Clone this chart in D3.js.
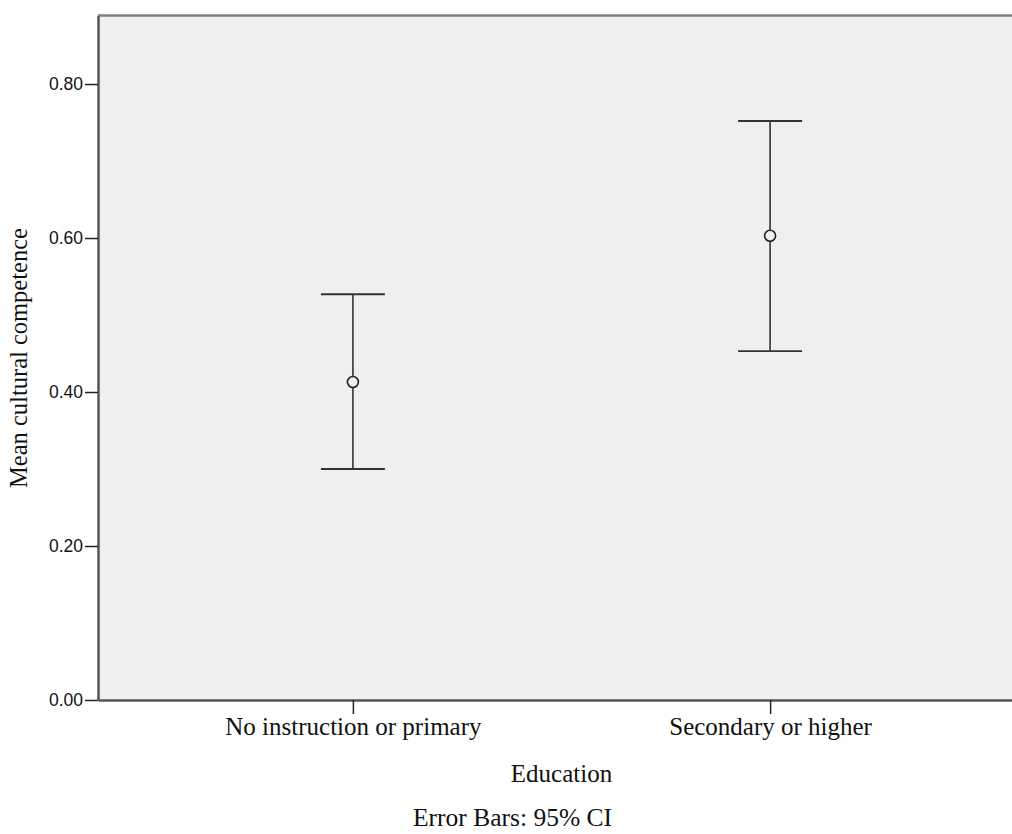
<!DOCTYPE html>
<html>
<head>
<meta charset="utf-8">
<script src="https://cdn.jsdelivr.net/npm/d3@7"></script>
<style>
  body { margin: 0; background: #fff; }
</style>
</head>
<body>
<div id="chart"></div>
<script>
const categories = ['No instruction or primary', 'Secondary or higher'];
const means = [0.413, 0.603];
const lowerCI = [0.300, 0.453];
const upperCI = [0.527, 0.752];
const yTicks = [0, 0.2, 0.4, 0.6, 0.8];

const width = 1012;
const height = 834;
const plotLeft = 98, plotTop = 15.5, plotRight = 1025, plotBottom = 700;
const serif = '"Liberation Serif", "Times New Roman", serif';
const sans = '"Liberation Sans", Arial, sans-serif';

const svg = d3.select('#chart').append('svg')
  .attr('width', width)
  .attr('height', height);

// scales
const x = d3.scalePoint()
  .domain(categories)
  .range([plotLeft, plotRight])
  .padding(0.611);

const y = d3.scaleLinear()
  .domain([0, 0.889])
  .range([plotBottom, plotTop]);

// plot background
svg.append('rect')
  .attr('x', plotLeft)
  .attr('y', plotTop)
  .attr('width', plotRight - plotLeft)
  .attr('height', plotBottom - plotTop)
  .attr('fill', '#efefef');

// top border
svg.append('line')
  .attr('x1', plotLeft).attr('x2', plotRight)
  .attr('y1', plotTop).attr('y2', plotTop)
  .attr('stroke', '#808080')
  .attr('stroke-width', 2.5);

// y axis
const yAxis = d3.axisLeft(y)
  .tickValues(yTicks)
  .tickFormat(d3.format('.2f'))
  .tickSize(13)
  .tickPadding(2)
  .tickSizeOuter(0);

const gy = svg.append('g')
  .attr('transform', 'translate(' + plotLeft + ',0)')
  .call(yAxis);
gy.select('.domain').attr('stroke', '#555').attr('stroke-width', 2.5);
gy.selectAll('.tick line').attr('stroke', '#222').attr('stroke-width', 1.5);
gy.selectAll('.tick text')
  .style('font-family', sans)
  .style('font-size', '17.5px')
  .attr('fill', '#111');

// x axis
const xAxis = d3.axisBottom(x)
  .tickSize(14)
  .tickPadding(3)
  .tickSizeOuter(0);

const gx = svg.append('g')
  .attr('transform', 'translate(0,' + plotBottom + ')')
  .call(xAxis);
gx.select('.domain').attr('stroke', '#555').attr('stroke-width', 2.5);
gx.selectAll('.tick line').attr('stroke', '#222').attr('stroke-width', 1.5);
gx.selectAll('.tick text')
  .style('font-family', serif)
  .style('font-size', '25px')
  .attr('fill', '#111');

// error bars
const capHalf = 32;
const g = svg.append('g').attr('class', 'bars');

categories.forEach((c, i) => {
  const cx = x(c);
  g.append('line')
    .attr('x1', cx).attr('x2', cx)
    .attr('y1', y(upperCI[i])).attr('y2', y(lowerCI[i]))
    .attr('stroke', '#333').attr('stroke-width', 1.6);
  g.append('line')
    .attr('x1', cx - capHalf).attr('x2', cx + capHalf)
    .attr('y1', y(upperCI[i])).attr('y2', y(upperCI[i]))
    .attr('stroke', '#333').attr('stroke-width', 1.8);
  g.append('line')
    .attr('x1', cx - capHalf).attr('x2', cx + capHalf)
    .attr('y1', y(lowerCI[i])).attr('y2', y(lowerCI[i]))
    .attr('stroke', '#333').attr('stroke-width', 1.8);
  g.append('circle')
    .attr('cx', cx).attr('cy', y(means[i]))
    .attr('r', 5.5)
    .attr('fill', '#efefef')
    .attr('stroke', '#222').attr('stroke-width', 1.6);
});

// titles
svg.append('text')
  .attr('x', 561.5)
  .attr('y', 782)
  .attr('text-anchor', 'middle')
  .style('font-family', serif)
  .style('font-size', '25px')
  .attr('fill', '#111')
  .text('Education');

// footnote, right edge lines up with "Education"
svg.append('text')
  .attr('x', 612)
  .attr('y', 826)
  .attr('text-anchor', 'end')
  .style('font-family', serif)
  .style('font-size', '25.5px')
  .attr('fill', '#111')
  .text('Error Bars: 95% CI');

svg.append('text')
  .attr('transform', 'translate(27,358) rotate(-90)')
  .attr('text-anchor', 'middle')
  .style('font-family', serif)
  .style('font-size', '24.5px')
  .attr('fill', '#111')
  .text('Mean cultural competence');
</script>
</body>
</html>
